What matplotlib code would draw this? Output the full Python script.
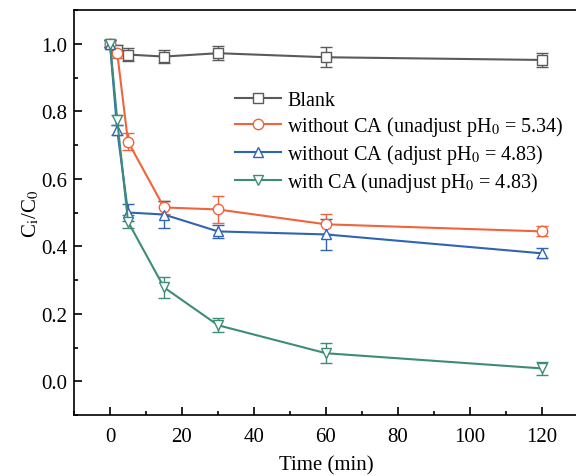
import numpy as np
import matplotlib.pyplot as plt
from matplotlib.lines import Line2D

plt.rcParams['font.family'] = ['Liberation Serif', 'DejaVu Serif']
plt.rcParams['mathtext.fontset'] = 'stix'

t = [0, 2, 5, 15, 30, 60, 120]

blank = [1.0, 0.982, 0.968, 0.962, 0.972, 0.960, 0.952]
blank_err = [0.01, 0.015, 0.02, 0.02, 0.02, 0.03, 0.02]

no_ca = [1.0, 0.973, 0.71, 0.515, 0.509, 0.465, 0.444]
no_ca_err = [0.01, 0.015, 0.025, 0.02, 0.04, 0.03, 0.015]

no_ca_adj = [1.0, 0.745, 0.50, 0.494, 0.444, 0.435, 0.379]
no_ca_adj_err = [0.01, 0.015, 0.025, 0.04, 0.02, 0.045, 0.015]

with_ca = [1.0, 0.775, 0.473, 0.278, 0.166, 0.083, 0.038]
with_ca_err = [0.01, 0.015, 0.02, 0.03, 0.02, 0.03, 0.02]

labels = ['Blank',
          'without CA (unadjust pH$_0$ = 5.34)',
          'without CA (adjust pH$_0$ = 4.83)',
          'with CA (unadjust pH$_0$ = 4.83)']

fig = plt.figure(figsize=(5.76, 4.77), dpi=100)
ax = fig.add_axes([74/576, 1-416/477, 504/576, 405/477])

series = [(blank, blank_err, '#5a5a5a', 's'),
          (no_ca, no_ca_err, '#f0643c', 'o'),
          (no_ca_adj, no_ca_adj_err, '#2f64b4', '^'),
          (with_ca, with_ca_err, '#3d8c78', 'v')]

handles = []
for (y, e, c, m), lab in zip(series, labels):
    ax.errorbar(t, y, yerr=e, color=c, marker=m, markersize=7.5, markerfacecolor='white',
                markeredgecolor=c, markeredgewidth=1.0, lw=1.5, capsize=4, elinewidth=1.0,
                ecolor=c)
    handles.append(Line2D([], [], color=c, marker=m, markersize=7.5, markerfacecolor='white',
                          markeredgecolor=c, markeredgewidth=1.0, lw=1.5, label=lab))

ax.set_xlim(-10, 130)
ax.set_ylim(-0.1, 1.1)
ax.set_xticks([0, 20, 40, 60, 80, 100, 120])
ax.set_xticks(np.arange(-10, 130, 10), minor=True)
ax.set_yticks([0.0, 0.2, 0.4, 0.6, 0.8, 1.0])
ax.set_yticks(np.arange(-0.1, 1.1, 0.1), minor=True)
ax.set_yticklabels(['0.0', '0.2', '0.4', '0.6', '0.8', '1.0'])
ax.tick_params(which='both', direction='in', labelsize=15, width=1.2)
ax.tick_params(which='major', length=6)
ax.tick_params(which='minor', length=3)
ax.tick_params(axis='x', which='major', pad=9)
ax.tick_params(axis='y', which='major', pad=5)
for s in ax.spines.values():
    s.set_linewidth(1.2)
ax.spines['right'].set_visible(False)

ax.set_xlabel('Time (min)', fontsize=15, labelpad=6)
ax.set_ylabel(r'C$_\mathrm{i}$/C$_\mathrm{0}$', fontsize=15, labelpad=0)

ax.legend(handles=handles, loc='upper left', bbox_to_anchor=(0.283, 0.845), frameon=False,
          fontsize=14.5, handlelength=2.3, labelspacing=0.2, handletextpad=0.3)

fig.savefig('out.png', dpi=100)
